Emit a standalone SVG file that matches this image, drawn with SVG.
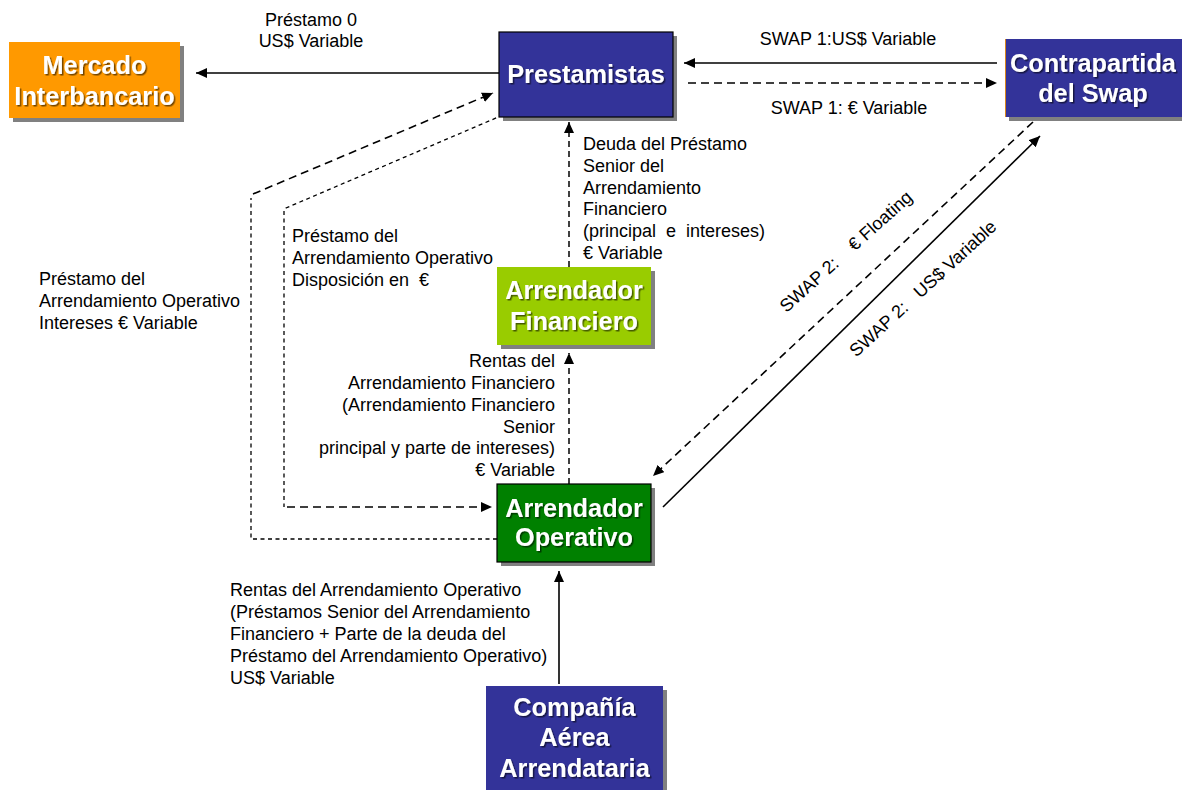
<svg xmlns="http://www.w3.org/2000/svg" width="1182" height="790" viewBox="0 0 1182 790">
  <style>
    .box-shadow { fill: #808080; }
    .title { font-family: "Liberation Sans", Arial, sans-serif; font-weight: bold; font-size: 25.3px; fill: #ffffff; text-anchor: middle; filter: url(#txtShadow); }
    .lbl { font-family: "Liberation Sans", Arial, sans-serif; font-size: 18px; fill: #000000; }
    .solid { fill: none; stroke: #000; stroke-width: 1.6; }
    .dash-long { fill: none; stroke: #000; stroke-width: 1.6; stroke-dasharray: 8 5; }
    .dash-short { fill: none; stroke: #000; stroke-width: 1.3; stroke-dasharray: 4 3.5; }
    .dash-mid { fill: none; stroke: #000; stroke-width: 1.5; stroke-dasharray: 6 4; }
  </style>
  <defs>
    <marker id="arrow" markerUnits="userSpaceOnUse" markerWidth="12" markerHeight="10" refX="11" refY="5" orient="auto">
      <path d="M0,0 L11,5 L0,10 Z" fill="#000"/>
    </marker>
    <filter id="txtShadow" x="-10%" y="-30%" width="120%" height="160%">
      <feDropShadow dx="1.5" dy="1.5" stdDeviation="0.6" flood-color="#000" flood-opacity="0.55"/>
    </filter>
  </defs>

  <rect width="1182" height="790" fill="#ffffff"/>

  <!-- connectors -->
  <g id="connectors">
    <!-- Prestamistas -> Mercado Interbancario -->
    <path class="solid" d="M499,73 L196,73" marker-end="url(#arrow)"/>
    <!-- SWAP 1 -->
    <path class="solid" d="M997,63 L684,63" marker-end="url(#arrow)"/>
    <path class="dash-long" d="M688,83 L997,83" marker-end="url(#arrow)"/>
    <!-- interest loop: Arrendador Operativo -> Prestamistas -->
    <path class="dash-short" d="M497,539 L251,539 L251,198"/>
    <path class="dash-long" d="M253,194 L493,93" marker-end="url(#arrow)"/>
    <!-- drawdown loop: Prestamistas -> Arrendador Operativo -->
    <path class="dash-short" d="M503,115 L286,208 L284,210 L284,507"/>
    <path class="dash-long" d="M287,507 L492,507" marker-end="url(#arrow)"/>
    <!-- Arrendador Financiero -> Prestamistas -->
    <path class="dash-mid" d="M569,267 L569,122" marker-end="url(#arrow)"/>
    <!-- Arrendador Operativo -> Arrendador Financiero -->
    <path class="dash-mid" d="M569,484 L569,353" marker-end="url(#arrow)"/>
    <!-- Compañía Aérea -> Arrendador Operativo -->
    <path class="solid" d="M559,684 L559,571" marker-end="url(#arrow)"/>
    <!-- SWAP 2 -->
    <path class="dash-long" d="M1033,122 L653,476" marker-end="url(#arrow)"/>
    <path class="solid" d="M663,507 L1040,136" marker-end="url(#arrow)"/>
  </g>

  <!-- connector labels -->
  <g id="labels">
    <text class="lbl" x="311" y="26" text-anchor="middle">Préstamo 0</text>
    <text class="lbl" x="311" y="47" text-anchor="middle">US$ Variable</text>
    <text class="lbl" x="848" y="45" text-anchor="middle">SWAP 1:US$ Variable</text>
    <text class="lbl" x="849" y="114" text-anchor="middle">SWAP 1: € Variable</text>

    <text class="lbl" x="39" y="285">Préstamo del</text>
    <text class="lbl" x="39" y="307">Arrendamiento Operativo</text>
    <text class="lbl" x="39" y="329">Intereses € Variable</text>

    <text class="lbl" x="292" y="242">Préstamo del</text>
    <text class="lbl" x="292" y="264">Arrendamiento Operativo</text>
    <text class="lbl" x="292" y="286" xml:space="preserve">Disposición en  €</text>

    <text class="lbl" x="583" y="150">Deuda del Préstamo</text>
    <text class="lbl" x="583" y="172">Senior del</text>
    <text class="lbl" x="583" y="194">Arrendamiento</text>
    <text class="lbl" x="583" y="215">Financiero</text>
    <text class="lbl" x="583" y="237" xml:space="preserve">(principal  e  intereses)</text>
    <text class="lbl" x="583" y="259">€ Variable</text>

    <g text-anchor="end">
      <text class="lbl" x="555" y="367">Rentas del</text>
      <text class="lbl" x="555" y="389">Arrendamiento Financiero</text>
      <text class="lbl" x="555" y="411">(Arrendamiento Financiero</text>
      <text class="lbl" x="555" y="433">Senior</text>
      <text class="lbl" x="555" y="454">principal y parte de intereses)</text>
      <text class="lbl" x="555" y="476">€ Variable</text>
    </g>

    <text class="lbl" x="230" y="596">Rentas del Arrendamiento Operativo</text>
    <text class="lbl" x="230" y="618">(Préstamos Senior del Arrendamiento</text>
    <text class="lbl" x="230" y="640">Financiero + Parte de la deuda del</text>
    <text class="lbl" x="230" y="662">Préstamo del Arrendamiento Operativo)</text>
    <text class="lbl" x="230" y="684">US$ Variable</text>

    <text class="lbl" text-anchor="middle" xml:space="preserve" transform="translate(850,256) rotate(-42)">SWAP 2:    € Floating</text>
    <text class="lbl" text-anchor="middle" xml:space="preserve" transform="translate(927,293) rotate(-42.5)">SWAP 2:   US$ Variable</text>
  </g>

  <!-- nodes -->
  <g id="mercado">
    <rect class="box-shadow" x="13" y="46" width="171" height="76"/>
    <rect x="9" y="42" width="171" height="76" fill="#FF9900"/>
    <text class="title" x="94.5" y="74">Mercado</text>
    <text class="title" x="94.5" y="105">Interbancario</text>
  </g>

  <g id="prestamistas">
    <rect class="box-shadow" x="503" y="36" width="174" height="85"/>
    <rect x="499" y="32" width="174" height="85" fill="#333399" stroke="#000" stroke-width="1.2"/>
    <text class="title" x="586" y="83">Prestamistas</text>
  </g>

  <g id="contrapartida">
    <rect class="box-shadow" x="1009" y="43" width="176" height="78"/>
    <rect x="1005" y="39" width="177" height="78" fill="#333399"/>
    <line x1="1005.5" y1="39" x2="1005.5" y2="117" stroke="#D9861C" stroke-width="1"/>
    <text class="title" x="1093" y="72">Contrapartida</text>
    <text class="title" x="1093" y="102">del Swap</text>
  </g>

  <g id="arrendador-financiero">
    <rect class="box-shadow" x="501" y="271" width="154" height="78"/>
    <rect x="497" y="267" width="154" height="78" fill="#99CC00"/>
    <text class="title" x="574" y="299">Arrendador</text>
    <text class="title" x="574" y="330">Financiero</text>
  </g>

  <g id="arrendador-operativo">
    <rect class="box-shadow" x="501" y="488" width="154" height="78"/>
    <rect x="497" y="484" width="154" height="78" fill="#008000" stroke="#000" stroke-width="1.2"/>
    <text class="title" x="574" y="517">Arrendador</text>
    <text class="title" x="574" y="546">Operativo</text>
  </g>

  <g id="compania-aerea">
    <rect class="box-shadow" x="490" y="690" width="177" height="110"/>
    <rect x="486" y="686" width="177" height="110" fill="#333399"/>
    <text class="title" x="574.5" y="716">Compañía</text>
    <text class="title" x="574.5" y="746">Aérea</text>
    <text class="title" x="574.5" y="777">Arrendataria</text>
  </g>
</svg>
